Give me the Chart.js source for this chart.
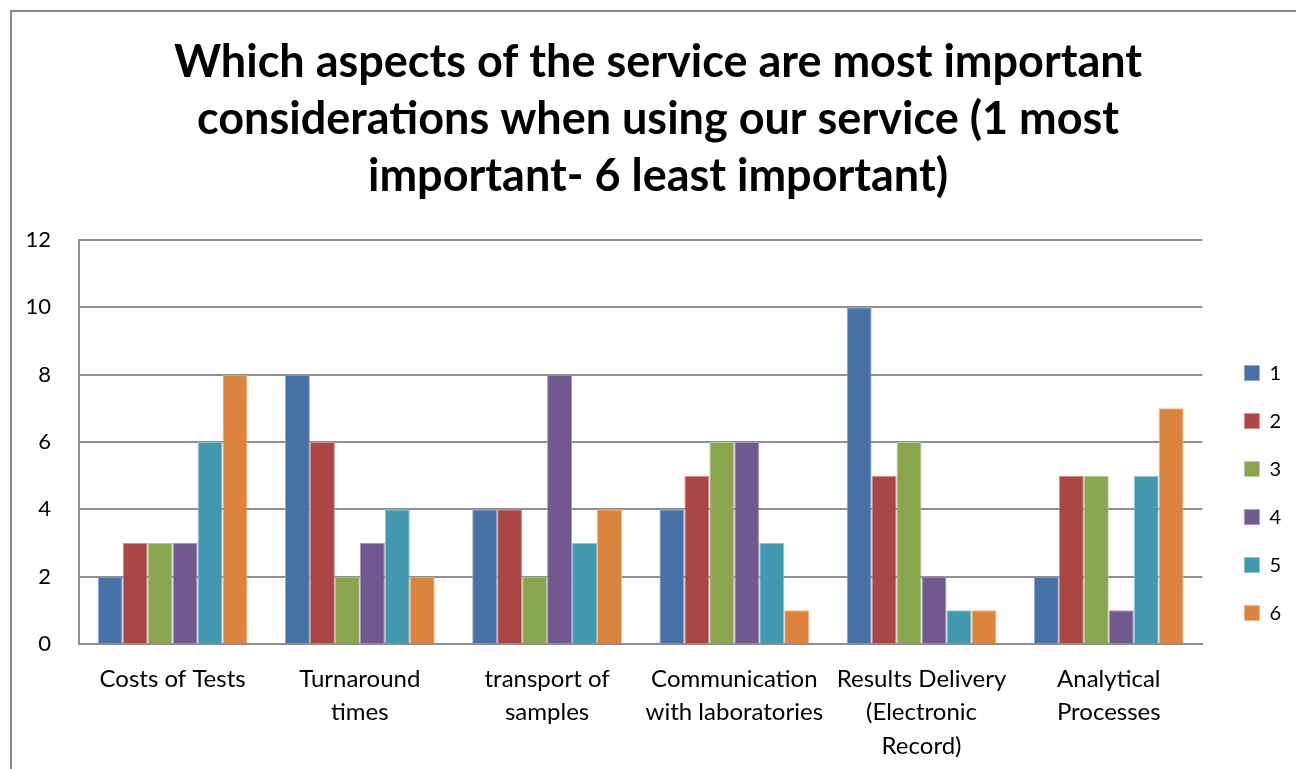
<!DOCTYPE html>
<html>
<head>
<meta charset="utf-8">
<script src="https://cdn.jsdelivr.net/npm/chart.js@4/dist/chart.umd.min.js"></script>
<style>
  html, body { margin: 0; padding: 0; background: #fff; overflow: hidden; }
  #frame {
    position: absolute; left: 10px; top: 10px;
    width: 1300px; height: 770px;
    border-left: 2px solid #8a8a8a; border-top: 2px solid #8a8a8a;
  }
  #chartBox { position: absolute; left: 13px; top: 0; width: 1266px; height: 757px; }
</style>
</head>
<body>
<div id="frame">
  <div id="chartBox"><canvas id="surveyChart"></canvas></div>
</div>
<script>
// ===== Survey data =====
const categories = [
  'Costs of Tests',
  ['Turnaround', 'times'],
  ['transport of', 'samples'],
  ['Communication', 'with laboratories'],
  ['Results Delivery', '(Electronic', 'Record)'],
  ['Analytical', 'Processes'],
];
const rankLabels = ['1', '2', '3', '4', '5', '6'];

// votes per rank, one array per rank, in category order
const rank1 = [2, 8, 4, 4, 10, 2];
const rank2 = [3, 6, 4, 5, 5, 5];
const rank3 = [3, 2, 2, 6, 6, 5];
const rank4 = [3, 3, 8, 6, 2, 1];
const rank5 = [6, 4, 3, 3, 1, 5];
const rank6 = [8, 2, 4, 1, 1, 7];

const yTicks = [0, 2, 4, 6, 8, 10, 12];

const rankColors = ['#4672A8', '#AA4643', '#89A54E', '#71588F', '#4198AF', '#DB843D'];
const rankBorders = ['#8fa9cb', '#cf8f8d', '#b9cc98', '#a796bd', '#8cc4d3', '#edb88c'];

const FONT = 'Lato, "Open Sans", sans-serif';

// ===== Build chart =====
const rankSeries = [rank1, rank2, rank3, rank4, rank5, rank6];
const datasets = rankSeries.map((values, i) => ({
  label: rankLabels[i],
  data: values,
  backgroundColor: rankColors[i],
  borderColor: rankBorders[i],
  borderWidth: 1,
  barPercentage: 1,
  categoryPercentage: 0.8,
}));

const gridColor = '#8e8e8e';

new Chart(document.getElementById('surveyChart'), {
  type: 'bar',
  data: { labels: categories, datasets },
  options: {
    responsive: true,
    maintainAspectRatio: false,
    animation: false,
    layout: { padding: 0 },
    plugins: {
      title: {
        display: true,
        text: [
          'Which aspects of the service are most important',
          'considerations when using our service (1 most',
          'important- 6 least important)',
        ],
        color: '#000',
        font: { family: FONT, size: 45, weight: 'bold', lineHeight: 1.267 },
        padding: { top: 22, bottom: 35 },
      },
      legend: {
        position: 'right',
        // empty title only pushes the key down beside the bars
        title: { display: true, text: ' ', font: { size: 1 }, padding: { top: 0, bottom: 204 } },
        labels: {
          color: '#000',
          font: { family: FONT, size: 20 },
          boxWidth: 15,
          boxHeight: 15,
          padding: 28,
        },
      },
      tooltip: { enabled: false },
    },
    scales: {
      x: {
        grid: { display: false, drawTicks: false },
        border: { color: gridColor, width: 2 },
        ticks: {
          color: '#000',
          font: { family: FONT, size: 24, lineHeight: 1.4 },
          padding: 18,
          maxRotation: 0,
          autoSkip: false,
        },
        afterFit: (scale) => { scale.height = 125; },
      },
      y: {
        min: 0,
        max: 12,
        afterBuildTicks: (scale) => { scale.ticks = yTicks.map(v => ({ value: v })); },
        grid: { color: gridColor, lineWidth: 2, drawTicks: false },
        border: { color: gridColor, width: 2 },
        ticks: {
          color: '#000',
          font: { family: FONT, size: 22 },
          padding: 28,
        },
        afterFit: (scale) => { scale.width = 54; },
      },
      // blank gap between plot and key
      gap: {
        position: 'right',
        grid: { display: false, drawTicks: false },
        border: { display: false },
        ticks: { display: false },
        afterFit: (scale) => { scale.width = 14; },
      },
    },
  },
});
</script>
</body>
</html>
